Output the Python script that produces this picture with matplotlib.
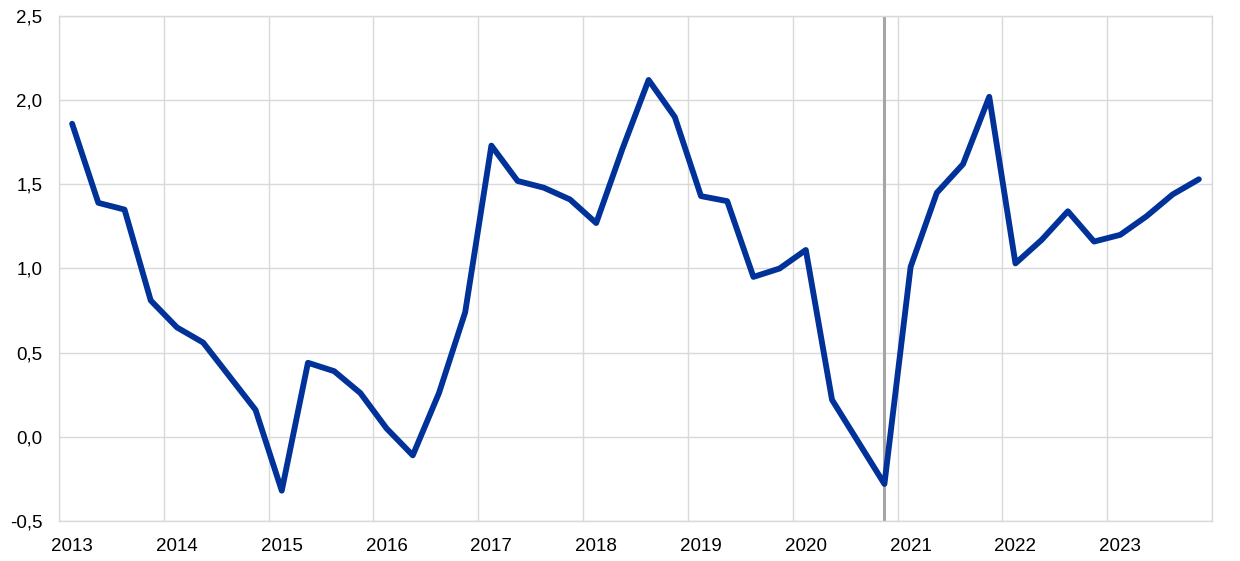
import numpy as np
import matplotlib.pyplot as plt

plt.rcParams['font.family'] = ['Liberation Sans', 'DejaVu Sans']

# quarterly values, 2013Q1 .. 2023Q4
values = [1.86, 1.39, 1.35, 0.81, 0.65, 0.56, 0.36, 0.16,
          -0.32, 0.44, 0.39, 0.26, 0.05, -0.11, 0.26, 0.74,
          1.73, 1.52, 1.48, 1.41, 1.27, 1.71, 2.12, 1.90,
          1.43, 1.40, 0.95, 1.00, 1.11, 0.22, -0.03, -0.28,
          1.01, 1.45, 1.62, 2.02, 1.03, 1.17, 1.34, 1.16,
          1.20, 1.31, 1.44, 1.53]
years = ['2013', '2014', '2015', '2016', '2017', '2018',
         '2019', '2020', '2021', '2022', '2023']
y_ticks = [-0.5, 0.0, 0.5, 1.0, 1.5, 2.0, 2.5]
marker_quarter = 31  # 2020Q4

x = np.arange(len(values))

fig = plt.figure(figsize=(12.4, 5.61), dpi=100)
ax = fig.add_axes([0.0476, 0.0713, 0.9298, 0.9002])

# year boundaries as gridlines
for k in range(len(years) + 1):
    ax.axvline(4 * k - 0.5, color='#d9d9d9', lw=1, zorder=0)
for v in y_ticks:
    ax.axhline(v, color='#d9d9d9', lw=1, zorder=0)

ax.axvline(marker_quarter, color='#a6a6a6', lw=2.2, zorder=1)
ax.plot(x, values, color='#003299', lw=4.2, solid_joinstyle='round',
        solid_capstyle='round', zorder=2)

ax.set_xlim(-0.5, len(values) - 0.5)
ax.set_ylim(-0.5, 2.5)
ax.set_xticks(np.arange(len(years)) * 4)
ax.set_xticklabels(years)
ax.set_yticks(y_ticks)
ax.set_yticklabels([f'{v:.1f}'.replace('.', ',') for v in y_ticks])
ax.tick_params(length=0, labelsize=13.5, colors='black')
ax.tick_params(axis='y', pad=12)
ax.tick_params(axis='x', pad=12)
for s in ax.spines.values():
    s.set_color('#d9d9d9')
    s.set_linewidth(1)

fig.savefig('out.png', dpi=100)
